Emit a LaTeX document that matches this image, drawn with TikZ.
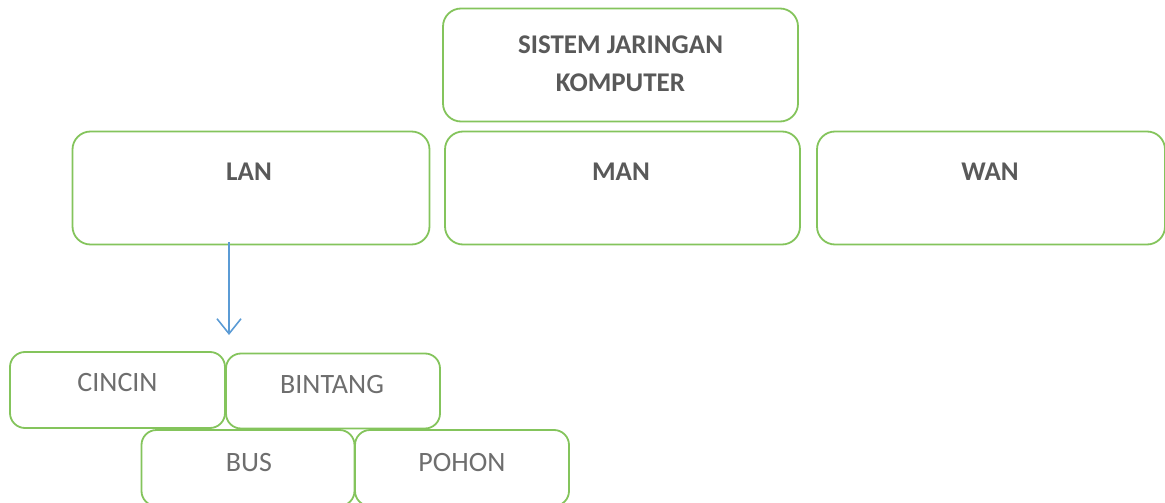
\documentclass[tikz,border=0pt]{standalone}
\usepackage{fontspec}
\setmainfont{Carlito}
\usetikzlibrary{arrows.meta}
\definecolor{boxgreen}{RGB}{132,196,92}
\definecolor{arrblue}{RGB}{91,155,213}
\definecolor{darktxt}{RGB}{89,89,89}
\definecolor{lighttxt}{RGB}{110,110,110}
\tikzset{
  box/.style={draw=boxgreen, line width=1.8pt, rounded corners=18pt, fill=white, inner sep=0pt},
  toptxt/.style={text=darktxt, font=\fontsize{27}{38}\selectfont\bfseries, align=center, inner sep=0pt},
  lowtxt/.style={text=lighttxt, font=\fontsize{28}{30}\selectfont, inner sep=0pt},
  arr/.style={draw=arrblue, line width=1.6pt, -{Straight Barb[length=15pt,width=24pt,line width=1.6pt]}}
}
\begin{document}
\begin{tikzpicture}[x=1pt,y=-1pt]
\useasboundingbox (0,0) rectangle (1165,503);
\clip (0,0) rectangle (1165,503);
% top box
\node[box, minimum width=355pt, minimum height=113pt] (sis) at (620.5,65) {};
\node[toptxt] (sist) at (620.5,64) {SISTEM JARINGAN\\KOMPUTER};
% second row
\node[box, minimum width=357pt, minimum height=113pt] (lan) at (251,188) {};
\node[toptxt] (lant) at (249,172) {LAN};
\node[box, minimum width=355pt, minimum height=113pt] (man) at (622.5,188) {};
\node[toptxt] (mant) at (621,172) {MAN};
\node[box, minimum width=348pt, minimum height=113pt] (wan) at (991,188) {};
\node[toptxt] (want) at (990,172) {WAN};
% arrow
\coordinate (tip) at (229,335);
\draw[arr] (lan.south -| tip) ++(0,-3) -- (tip);
% lower boxes
\node[box, rounded corners=15pt, minimum width=215pt, minimum height=76pt] (cin) at (117.5,390) {};
\node[lowtxt] (cint) at (117.5,383) {CINCIN};
\node[box, rounded corners=15pt, minimum width=214pt, minimum height=75pt] (bin) at (333,391) {};
\node[lowtxt] (bint) at (332,385) {BINTANG};
\node[box, rounded corners=15pt, minimum width=213pt, minimum height=76pt] (bus) at (248,468) {};
\node[lowtxt] (bust) at (249,463) {BUS};
\node[box, rounded corners=15pt, minimum width=214pt, minimum height=76pt] (poh) at (462,468) {};
\node[lowtxt] (poht) at (462,463) {POHON};
\end{tikzpicture}
\end{document}
